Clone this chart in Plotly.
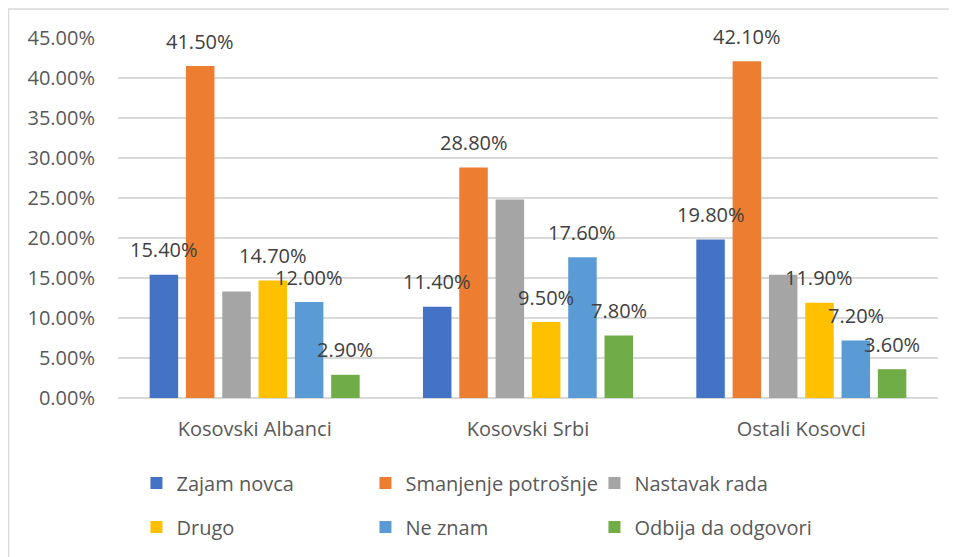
import plotly.graph_objects as go

categories = ["Kosovski Albanci", "Kosovski Srbi", "Ostali Kosovci"]
series_names = ["Zajam novca", "Smanjenje potrošnje", "Nastavak rada",
                "Drugo", "Ne znam", "Odbija da odgovori"]
zajam_novca = [15.4, 11.4, 19.8]
smanjenje_potrosnje = [41.5, 28.8, 42.1]
nastavak_rada = [13.3, 24.8, 15.4]
drugo = [14.7, 9.5, 11.9]
ne_znam = [12.0, 17.6, 7.2]
odbija = [2.9, 7.8, 3.6]
series_values = [zajam_novca, smanjenje_potrosnje, nastavak_rada, drugo, ne_znam, odbija]
show_labels = [True, True, False, True, True, True]
tick_values = [0, 5, 10, 15, 20, 25, 30, 35, 40, 45]

colors = ["#4472C4", "#ED7D31", "#A5A5A5", "#FFC000", "#5B9BD5", "#70AD47"]
FONT = "Open Sans"
FS = 20
BARGAP = 0.203
BARGROUPGAP = 0.215

fig = go.Figure()
for i, (name, vals) in enumerate(zip(series_names, series_values)):
    fig.add_trace(go.Bar(
        x=categories, y=[v / 100 for v in vals], name=name,
        marker=dict(color=colors[i], line=dict(width=0)),
        legend="legend" if i < 3 else "legend2",
        hoverinfo="skip",
    ))

n = len(series_names)
slot = (1 - BARGAP) / n
annotations = []
for i, vals in enumerate(series_values):
    if not show_labels[i]:
        continue
    for ci, v in enumerate(vals):
        annotations.append(dict(
            x=ci + (i - (n - 1) / 2) * slot, y=v / 100, xref="x", yref="y",
            text=f"{v:.2f}%", showarrow=False, yanchor="middle", yshift=25,
            font=dict(family=FONT, size=FS, color="#404040"),
        ))

legend_common = dict(
    orientation="h", xanchor="left", yanchor="middle",
    entrywidth=184, entrywidthmode="pixels",
    font=dict(family=FONT, size=FS, color="#595959"),
    bgcolor="rgba(0,0,0,0)", itemclick=False, itemdoubleclick=False,
)

fig.update_layout(
    width=957, height=557,
    margin=dict(l=110, r=27, t=30, b=167),
    paper_bgcolor="white", plot_bgcolor="white",
    barmode="group", bargap=BARGAP, bargroupgap=BARGROUPGAP,
    showlegend=True,
    legend=dict(x=0.0225, y=-0.2361, **legend_common),
    legend2=dict(x=0.0225, y=-0.3583, **legend_common),
    annotations=annotations,
    shapes=[dict(type="rect", xref="paper", yref="paper",
                 x0=-0.1335, x1=1.1, y0=-0.6, y1=1.0806,
                 line=dict(color="#d9d9d9", width=1.5), layer="below")],
    xaxis=dict(
        showgrid=False, showline=False, zeroline=False,
        tickfont=dict(family=FONT, size=FS, color="#595959"),
        ticklabelstandoff=17,
    ),
    yaxis=dict(
        range=[0, 0.45], tickvals=[t / 100 for t in tick_values], tickformat=".2%",
        showgrid=True, gridcolor="#d9d9d9", gridwidth=1.5,
        zeroline=True, zerolinecolor="#d9d9d9", zerolinewidth=1.5,
        showline=False,
        tickfont=dict(family=FONT, size=FS, color="#595959"),
        ticklabelstandoff=22,
    ),
)

fig.write_html("out.html")
